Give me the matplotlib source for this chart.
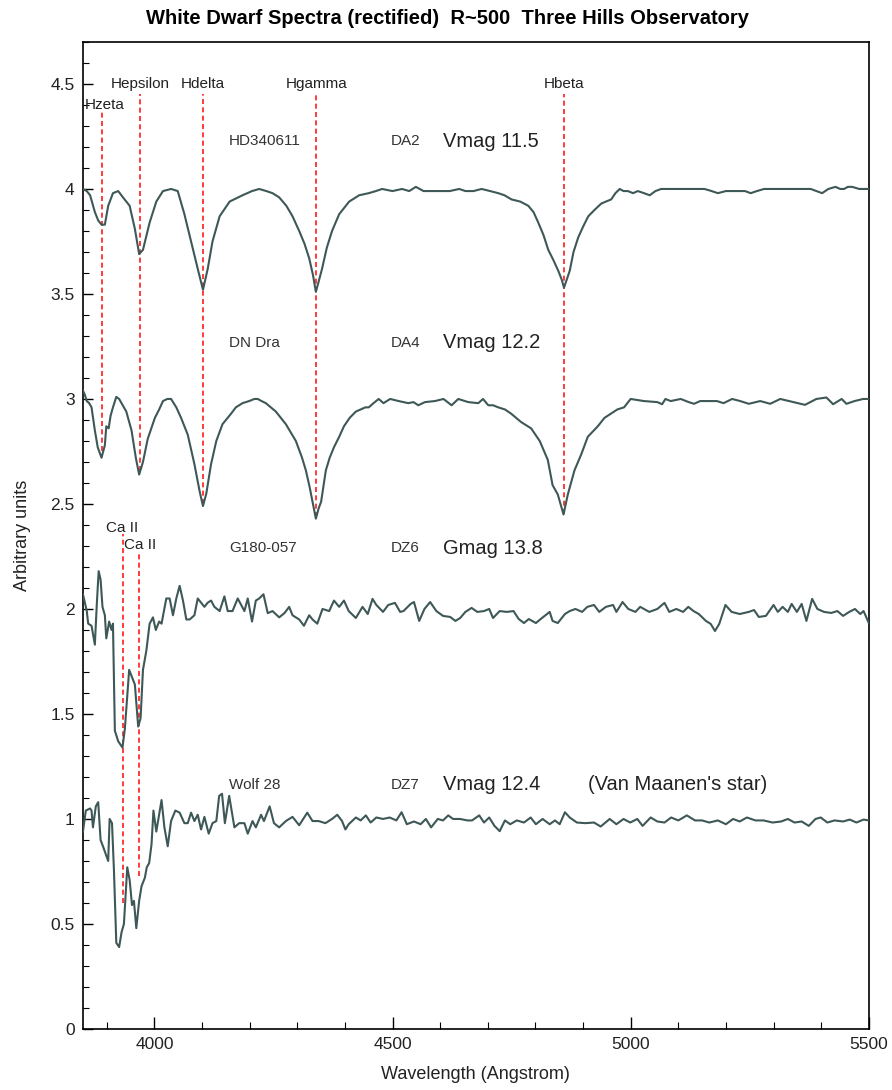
import matplotlib
matplotlib.use("Agg")
import matplotlib.pyplot as plt
from matplotlib import font_manager as fm
from matplotlib.ticker import MultipleLocator, FormatStrFormatter, FixedLocator

# -- data --
hd340611_wl = [3850, 3858, 3865, 3875, 3882, 3889, 3896, 3903, 3913, 3924, 3934, 3948,
               3959, 3968, 3976, 3990, 4004, 4018, 4035, 4049, 4063, 4077, 4091, 4102,
               4112, 4122, 4137, 4158, 4185, 4205, 4220, 4235, 4248, 4262, 4277, 4290,
               4304, 4315, 4325, 4333, 4339, 4345, 4352, 4362, 4373, 4388, 4409, 4430,
               4450, 4465, 4478, 4500, 4520, 4535, 4549, 4565, 4582, 4600, 4620, 4640,
               4653, 4670, 4687, 4705, 4722, 4735, 4750, 4768, 4785, 4796, 4806, 4817,
               4827, 4838, 4848, 4855, 4860, 4866, 4872, 4880, 4890, 4900, 4911, 4924,
               4938, 4948, 4959, 4968, 4977, 4985, 4994, 5005, 5015, 5028, 5040, 5052,
               5064, 5090, 5110, 5126, 5140, 5155, 5170, 5183, 5200, 5212, 5225, 5240,
               5252, 5265, 5280, 5300, 5320, 5336, 5355, 5378, 5390, 5402, 5415, 5430,
               5440, 5448, 5456, 5465, 5480, 5500]
hd340611_fl = [4.00, 3.99, 3.97, 3.89, 3.85, 3.83, 3.83, 3.92, 3.98, 3.99, 3.96, 3.92,
               3.81, 3.69, 3.71, 3.84, 3.94, 3.99, 4.00, 3.99, 3.88, 3.75, 3.62, 3.52,
               3.62, 3.75, 3.87, 3.94, 3.97, 3.99, 4.00, 3.99, 3.98, 3.96, 3.92, 3.87,
               3.80, 3.74, 3.67, 3.59, 3.51, 3.56, 3.62, 3.72, 3.80, 3.88, 3.94, 3.97,
               3.98, 3.99, 4.00, 3.99, 4.00, 3.99, 4.01, 3.99, 3.99, 3.99, 3.99, 4.00,
               3.99, 3.99, 4.00, 3.99, 3.98, 3.97, 3.95, 3.94, 3.92, 3.89, 3.84, 3.78,
               3.71, 3.66, 3.61, 3.57, 3.53, 3.57, 3.61, 3.70, 3.77, 3.82, 3.87, 3.90,
               3.93, 3.94, 3.95, 3.98, 4.00, 3.99, 3.99, 3.98, 3.99, 3.98, 3.97, 3.99,
               4.00, 4.00, 4.00, 4.00, 4.00, 4.00, 3.99, 3.98, 3.99, 3.99, 3.99, 3.99,
               3.98, 3.99, 4.00, 4.00, 4.00, 4.00, 4.00, 4.00, 3.99, 3.98, 4.00, 4.01,
               4.00, 4.00, 4.01, 4.01, 4.00, 4.00]

dndra_wl = [3850, 3854, 3858, 3863, 3868, 3875, 3881, 3889, 3896, 3899, 3904, 3908,
            3913, 3920, 3926, 3931, 3941, 3952, 3961, 3968, 3976, 3986, 4001, 4010,
            4018, 4027, 4035, 4046, 4056, 4070, 4084, 4095, 4102, 4109, 4119, 4130,
            4143, 4161, 4171, 4185, 4199, 4210, 4217, 4225, 4234, 4255, 4276, 4297,
            4310, 4318, 4326, 4332, 4339, 4345, 4350, 4360, 4368, 4377, 4388, 4398,
            4410, 4423, 4443, 4450, 4460, 4471, 4481, 4495, 4513, 4533, 4544, 4554,
            4568, 4589, 4607, 4624, 4638, 4659, 4680, 4690, 4701, 4711, 4722, 4736,
            4749, 4770, 4791, 4809, 4826, 4836, 4847, 4859, 4868, 4882, 4896, 4910,
            4931, 4945, 4965, 4972, 4986, 5000, 5028, 5056, 5066, 5073, 5084, 5105,
            5122, 5133, 5146, 5181, 5195, 5213, 5230, 5248, 5272, 5293, 5314, 5342,
            5366, 5390, 5411, 5425, 5443, 5453, 5470, 5488, 5500]
dndra_fl = [3.04, 3.02, 2.99, 2.98, 2.96, 2.85, 2.77, 2.72, 2.78, 2.87, 2.86, 2.92,
            2.96, 3.01, 3.00, 2.98, 2.94, 2.85, 2.72, 2.64, 2.70, 2.81, 2.91, 2.95,
            2.99, 3.00, 3.00, 2.96, 2.91, 2.83, 2.69, 2.56, 2.49, 2.55, 2.69, 2.80,
            2.88, 2.93, 2.96, 2.98, 2.99, 3.00, 3.00, 2.99, 2.98, 2.94, 2.88, 2.80,
            2.72, 2.66, 2.58, 2.51, 2.43, 2.48, 2.51, 2.66, 2.72, 2.77, 2.82, 2.87,
            2.91, 2.94, 2.96, 2.96, 2.98, 3.00, 2.98, 3.00, 2.99, 2.98, 2.985, 2.97,
            2.985, 2.99, 3.00, 2.97, 3.00, 2.985, 2.98, 3.00, 2.97, 2.97, 2.96, 2.95,
            2.93, 2.89, 2.86, 2.80, 2.71, 2.59, 2.545, 2.45, 2.545, 2.66, 2.735, 2.82,
            2.87, 2.91, 2.94, 2.95, 2.96, 3.00, 2.99, 2.985, 2.975, 3.00, 2.99, 3.00,
            2.985, 2.977, 2.99, 2.99, 2.98, 3.00, 2.99, 2.977, 2.99, 2.977, 3.00, 2.985,
            2.972, 3.00, 3.007, 2.975, 3.00, 2.977, 2.99, 3.00, 3.00]

g180_wl = [3850, 3858, 3861, 3868, 3875, 3879, 3883, 3887, 3891, 3896, 3899, 3905,
           3910, 3913, 3917, 3924, 3933, 3938, 3947, 3954, 3959, 3966, 3971, 3976,
           3983, 3990, 3997, 4003, 4010, 4015, 4025, 4032, 4039, 4046, 4053, 4060,
           4067, 4074, 4084, 4091, 4098, 4105, 4112, 4119, 4126, 4137, 4147, 4154,
           4164, 4175, 4182, 4189, 4196, 4205, 4213, 4220, 4229, 4238, 4248, 4262,
           4273, 4283, 4290, 4304, 4314, 4325, 4332, 4342, 4353, 4367, 4377, 4388,
           4398, 4408, 4423, 4437, 4448, 4458, 4466, 4480, 4491, 4505, 4516, 4523,
           4538, 4545, 4556, 4567, 4579, 4592, 4606, 4621, 4632, 4642, 4653, 4666,
           4678, 4692, 4703, 4711, 4725, 4740, 4754, 4765, 4776, 4786, 4801, 4811,
           4830, 4836, 4847, 4862, 4872, 4884, 4898, 4909, 4923, 4934, 4948, 4963,
           4970, 4983, 4995, 5010, 5020, 5039, 5056, 5071, 5081, 5096, 5110, 5121,
           5132, 5143, 5158, 5168, 5177, 5186, 5199, 5212, 5229, 5248, 5259, 5269,
           5284, 5300, 5309, 5319, 5330, 5338, 5349, 5359, 5369, 5381, 5392, 5406,
           5421, 5434, 5446, 5459, 5471, 5482, 5489, 5500]
g180_fl = [2.07, 1.99, 1.93, 1.92, 1.83, 2.02, 2.18, 2.14, 2.01, 1.97, 1.86, 1.94,
           1.90, 1.93, 1.42, 1.37, 1.34, 1.43, 1.71, 1.67, 1.64, 1.44, 1.48, 1.71,
           1.80, 1.93, 1.96, 1.90, 1.94, 1.93, 2.05, 2.05, 1.97, 2.05, 2.11, 2.04,
           1.95, 1.95, 1.97, 2.05, 2.03, 2.01, 2.03, 2.04, 2.01, 1.99, 2.06, 1.99,
           1.99, 2.05, 2.02, 1.99, 2.05, 1.94, 2.04, 2.05, 2.07, 1.98, 1.99, 1.96,
           1.98, 2.01, 1.97, 1.95, 1.92, 1.97, 1.95, 1.93, 2.00, 1.99, 2.04, 2.01,
           2.04, 1.99, 1.957, 2.010, 1.976, 2.048, 2.019, 1.986, 2.019, 2.029, 1.986, 1.990,
           2.024, 2.033, 1.943, 2.000, 2.033, 1.990, 1.967, 1.962, 1.943, 1.957, 1.986, 2.005,
           1.986, 1.990, 2.000, 1.957, 1.990, 1.986, 1.990, 1.952, 1.933, 1.952, 1.933, 1.952,
           1.986, 1.943, 1.933, 1.976, 1.990, 2.000, 1.986, 2.010, 2.019, 1.986, 2.010, 2.019,
           1.986, 2.033, 2.000, 1.986, 2.010, 1.986, 2.000, 2.029, 1.986, 2.000, 1.986, 2.010,
           1.990, 1.976, 1.943, 1.929, 1.895, 1.929, 2.019, 1.986, 1.976, 1.986, 1.995, 1.962,
           1.967, 2.019, 1.986, 2.010, 1.986, 2.024, 1.986, 2.024, 1.943, 2.048, 2.000, 1.986,
           1.981, 1.990, 1.967, 1.986, 2.000, 1.976, 1.990, 1.933]

wolf28_wl = [3850, 3856, 3865, 3868, 3871, 3877, 3882, 3887, 3892, 3900, 3903, 3906,
             3911, 3915, 3920, 3926, 3931, 3936, 3943, 3948, 3953, 3957, 3962, 3968,
             3973, 3980, 3984, 3989, 3994, 3998, 4004, 4015, 4021, 4028, 4035, 4044,
             4053, 4063, 4070, 4077, 4084, 4091, 4098, 4105, 4114, 4122, 4130, 4136,
             4142, 4148, 4157, 4168, 4178, 4189, 4196, 4206, 4213, 4224, 4230, 4242,
             4251, 4262, 4276, 4290, 4304, 4321, 4332, 4345, 4359, 4373, 4384, 4394,
             4401, 4408, 4423, 4433, 4444, 4454, 4466, 4480, 4494, 4508, 4519, 4530,
             4545, 4559, 4570, 4581, 4595, 4606, 4617, 4627, 4642, 4657, 4667, 4682,
             4692, 4703, 4714, 4725, 4736, 4747, 4761, 4776, 4790, 4801, 4815, 4830,
             4841, 4851, 4862, 4872, 4887, 4905, 4923, 4937, 4956, 4970, 4985, 4999,
             5014, 5025, 5042, 5056, 5071, 5085, 5100, 5118, 5135, 5150, 5165, 5183,
             5200, 5215, 5229, 5244, 5262, 5279, 5298, 5316, 5330, 5344, 5359, 5374,
             5388, 5399, 5413, 5428, 5446, 5460, 5474, 5489, 5500]
wolf28_fl = [0.94, 1.04, 1.05, 1.04, 0.96, 1.06, 1.08, 0.90, 0.87, 0.82, 0.80, 1.00,
             0.98, 0.76, 0.41, 0.39, 0.46, 0.50, 0.77, 0.71, 0.59, 0.61, 0.48, 0.61,
             0.68, 0.72, 0.77, 0.79, 0.88, 1.04, 0.94, 1.09, 0.96, 0.87, 0.99, 1.04,
             1.03, 0.98, 0.98, 1.03, 0.99, 1.02, 0.95, 1.01, 0.93, 0.98, 0.99, 1.11,
             1.12, 0.98, 1.11, 0.96, 0.98, 0.98, 0.93, 0.99, 0.96, 1.02, 0.99, 1.06,
             0.98, 0.96, 0.99, 1.01, 0.97, 1.03, 0.99, 0.99, 0.98, 1.00, 1.02, 0.99,
             0.95, 0.975, 1.007, 0.993, 1.017, 0.983, 1.007, 1.000, 1.007, 0.993, 1.032, 0.975,
             0.988, 0.975, 1.000, 0.960, 1.000, 0.993, 1.017, 1.000, 1.000, 0.993, 0.993, 1.017,
             0.983, 1.007, 0.967, 0.942, 0.993, 0.975, 0.993, 0.983, 1.007, 0.975, 1.000, 0.975,
             0.993, 0.975, 1.032, 1.007, 0.983, 0.980, 0.983, 0.964, 1.000, 0.975, 1.000, 0.983,
             1.000, 0.967, 1.007, 0.988, 0.983, 1.007, 0.993, 1.017, 0.993, 0.993, 0.983, 0.993,
             0.975, 1.000, 0.988, 1.007, 0.993, 0.993, 0.983, 0.988, 1.000, 0.983, 0.988, 0.967,
             1.000, 1.007, 0.983, 0.993, 0.988, 0.997, 0.983, 0.997, 0.993]

# line markers: name, wavelength, label y, line top, line bottom
h_names = ["Hzeta", "Hepsilon", "Hdelta", "Hgamma", "Hbeta"]
h_wl = [3889, 3970, 4102, 4340, 4861]
h_label_y = [4.40, 4.50, 4.50, 4.50, 4.50]
h_top = [4.365, 4.45, 4.45, 4.45, 4.45]
h_bottom = [2.75, 2.655, 2.50, 2.44, 2.45]

ca_names = ["Ca II", "Ca II"]
ca_wl = [3933.7, 3968.5]
ca_label_x = [3933, 3971]
ca_label_y = [2.386, 2.304]
ca_top = [2.356, 2.266]
ca_bottom = [0.60, 0.73]

star_names = ["HD340611", "DN Dra", "G180-057", "Wolf 28"]
star_types = ["DA2", "DA4", "DZ6", "DZ7"]
star_mags = ["Vmag 11.5", "Vmag 12.2", "Gmag 13.8", "Vmag 12.4"]
star_label_y = [4.228, 3.268, 2.29, 1.164]

spectra = [(hd340611_wl, hd340611_fl), (dndra_wl, dndra_fl),
           (g180_wl, g180_fl), (wolf28_wl, wolf28_fl)]

# fonts
have = {f.name for f in fm.fontManager.ttflist}
plain = "Liberation Sans" if "Liberation Sans" in have else "DejaVu Sans"

spec_col = "#3e5857"
red = "#ff1a1a"

fig = plt.figure(figsize=(8.92, 10.9), dpi=100)
ax = fig.add_axes([0.093, 0.056, 0.881, 0.9055])

for wl, fl in spectra:
    ax.plot(wl, fl, color=spec_col, lw=1.5, zorder=3)

for name, w, ly, top, bot in zip(h_names, h_wl, h_label_y, h_top, h_bottom):
    ax.plot([w, w], [bot, top], color=red, lw=1.2, ls=(0, (3, 2)), zorder=2)
    dx = 7 if name == "Hzeta" else 0
    ax.text(w + dx, ly, name, ha="center", va="center", fontsize=11,
            family=plain, color="#222222")

for name, w, lx, ly, top, bot in zip(ca_names, ca_wl, ca_label_x, ca_label_y,
                                     ca_top, ca_bottom):
    ax.plot([w, w], [bot, top], color=red, lw=1.2, ls=(0, (3, 2)), zorder=2)
    ax.text(lx, ly, name, ha="center", va="center", fontsize=11,
            family=plain, color="#222222")

for nm, tp, mg, y in zip(star_names, star_types, star_mags, star_label_y):
    ax.text(4157, y, nm, ha="left", va="center", fontsize=11, family=plain,
            color="#333333")
    ax.text(4497, y, tp, ha="left", va="center", fontsize=11, family=plain,
            color="#333333")
    ax.text(4607, y, mg, ha="left", va="center", fontsize=14.5, family=plain,
            color="#222222")
ax.text(4911, star_label_y[3], "(Van Maanen's star)", ha="left", va="center",
        fontsize=14.5, family=plain, color="#222222")

ax.set_xlim(3850, 5500)
ax.set_ylim(0, 4.7)
ax.xaxis.set_major_locator(FixedLocator([4000, 4500, 5000, 5500]))
ax.xaxis.set_minor_locator(MultipleLocator(100))
ax.yaxis.set_major_locator(MultipleLocator(0.5))
ax.yaxis.set_minor_locator(MultipleLocator(0.1))
ax.yaxis.set_major_formatter(FormatStrFormatter("%g"))
ax.tick_params(axis="x", which="major", direction="in", length=9, width=1, pad=6)
ax.tick_params(axis="x", which="minor", direction="in", length=5, width=0.8)
ax.tick_params(axis="y", which="major", direction="in", length=7, width=1, pad=6)
ax.tick_params(axis="y", which="minor", direction="in", length=4, width=0.8)
for lab in ax.get_xticklabels() + ax.get_yticklabels():
    lab.set_family(plain)
    lab.set_fontsize(12.5)
    lab.set_color("#222222")
for sp in ax.spines.values():
    sp.set_linewidth(1.2)

ax.set_xlabel("Wavelength (Angstrom)", family=plain, fontsize=13,
              color="#222222", labelpad=10)
ax.set_ylabel("Arbitrary units", family=plain, fontsize=13,
              color="#222222", labelpad=14)
fig.text(0.502, 0.983, "White Dwarf Spectra (rectified)  R~500  Three Hills Observatory",
         ha="center", va="center", family=plain, fontsize=14.5, weight="bold")

fig.savefig("out.png", dpi=100)
